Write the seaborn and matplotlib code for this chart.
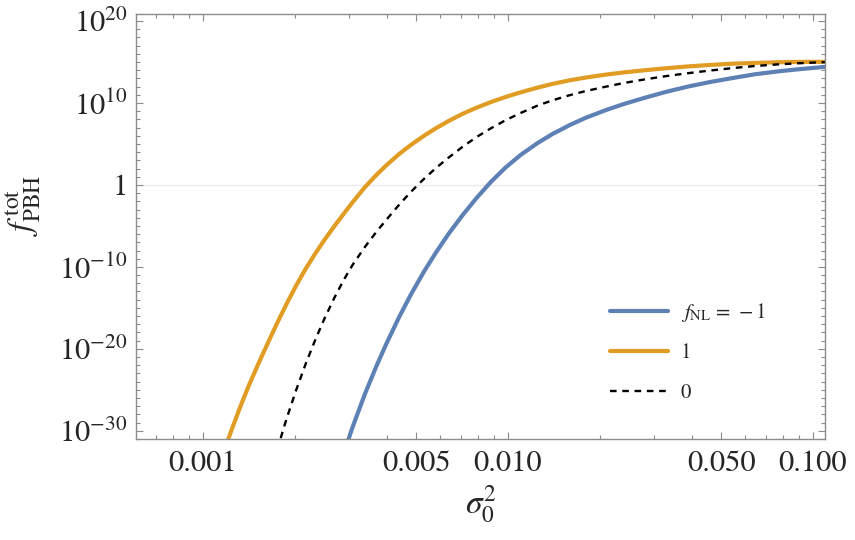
import numpy as np
import pandas as pd
import matplotlib
matplotlib.use("Agg")
import matplotlib.pyplot as plt
from matplotlib.ticker import FixedLocator, FuncFormatter, NullFormatter
import seaborn as sns

# values: x = sigma_0^2, y given as log10 of f_PBH^tot
x_fnl_m1 = [0.0029, 0.0031, 0.0034, 0.0037, 0.0040, 0.0044, 0.0048, 0.0053, 0.0058, 0.0064,
            0.0071, 0.0079, 0.0088, 0.0098, 0.011, 0.0125, 0.014, 0.016, 0.018, 0.021,
            0.024, 0.028, 0.033, 0.039, 0.046, 0.055, 0.065, 0.077, 0.09, 0.11]
logf_fnl_m1 = [-32.63, -29.46, -25.45, -22.14, -19.31, -16.09, -13.40, -10.59, -8.26, -5.92,
               -3.68, -1.56, 0.39, 2.10, 3.66, 5.11, 6.22, 7.34, 8.20, 9.15,
               9.88, 10.62, 11.36, 12.01, 12.56, 13.07, 13.52, 13.86, 14.12, 14.41]

x_fnl_p1 = [0.00118, 0.00125, 0.00133, 0.00142, 0.00152, 0.00163, 0.00175, 0.00188, 0.00202,
            0.00217, 0.00233, 0.0025, 0.0027, 0.0029, 0.0031, 0.0034, 0.0037, 0.0040, 0.0044,
            0.0048, 0.0053, 0.0058, 0.0064, 0.0071, 0.0079, 0.0088, 0.0098, 0.011, 0.0125,
            0.014, 0.016, 0.018, 0.021, 0.024, 0.028, 0.033, 0.039, 0.046, 0.055, 0.065,
            0.077, 0.09, 0.11]
logf_fnl_p1 = [-32.16, -29.58, -26.92, -24.31, -21.80, -19.33, -16.87, -14.51, -12.28,
               -10.25, -8.42, -6.72, -5.00, -3.47, -2.08, -0.25, 1.21, 2.43, 3.78,
               4.87, 5.99, 6.91, 7.82, 8.68, 9.44, 10.12, 10.72, 11.30, 11.87,
               12.33, 12.78, 13.10, 13.47, 13.73, 13.99, 14.24, 14.46, 14.64, 14.80, 14.89,
               14.97, 15.01, 15.02]

x_fnl_0 = [0.00175, 0.00188, 0.00202, 0.00217, 0.00233, 0.0025, 0.0027, 0.0029, 0.0031,
           0.0034, 0.0037, 0.0040, 0.0044, 0.0048, 0.0053, 0.0058, 0.0064, 0.0071, 0.0079,
           0.0088, 0.0098, 0.011, 0.0125, 0.014, 0.016, 0.018, 0.021, 0.024, 0.028,
           0.033, 0.039, 0.046, 0.055, 0.065, 0.077, 0.09, 0.11]
logf_fnl_0 = [-32.33, -28.52, -25.04, -21.86, -18.97, -16.34, -13.72, -11.53, -9.71,
              -7.54, -5.74, -4.21, -2.40, -0.86, 0.73, 2.05, 3.36, 4.66, 5.86,
              6.92, 7.88, 8.78, 9.68, 10.33, 10.97, 11.46, 12.00, 12.44, 12.87,
              13.28, 13.64, 13.96, 14.27, 14.52, 14.71, 14.85, 14.99]

x_major = [0.001, 0.005, 0.01, 0.05, 0.1]
x_major_labels = ["0.001", "0.005", "0.010", "0.050", "0.100"]
x_minor = [0.0007, 0.0008, 0.0009, 0.002, 0.003, 0.004, 0.006, 0.007, 0.008, 0.009,
           0.02, 0.03, 0.04, 0.06, 0.07, 0.08, 0.09]
y_major_exp = [-30, -20, -10, 0, 10, 20]

BLUE = "#5e81b5"
ORANGE = "#e19c24"
FRAME = "#8c8c8c"

sns.set_theme(style="ticks")
plt.rcParams["font.family"] = ["STIXGeneral", "DejaVu Serif"]
plt.rcParams["mathtext.fontset"] = "stix"

fig, ax = plt.subplots(figsize=(8.55, 5.4), dpi=100)
fig.subplots_adjust(left=0.159, right=0.965, bottom=0.187, top=0.974)

ax.axhline(1.0, color="#ebebeb", lw=1.0, zorder=0)

sns.lineplot(x=x_fnl_m1, y=10.0 ** np.array(logf_fnl_m1), ax=ax, color=BLUE, lw=3.0,
             label=r"$f_{\mathrm{NL}}\,=\,-1$", sort=False)
sns.lineplot(x=x_fnl_p1, y=10.0 ** np.array(logf_fnl_p1), ax=ax, color=ORANGE, lw=3.0,
             label="1", sort=False)
sns.lineplot(x=x_fnl_0, y=10.0 ** np.array(logf_fnl_0), ax=ax, color="black", lw=1.7,
             linestyle=(0, (2.8, 2.4)), label="0", sort=False)

ax.set_xscale("log")
ax.set_yscale("log")
ax.set_xlim(6.03e-4, 0.1095)
ax.set_ylim(1e-31, 10 ** 20.85)

ax.xaxis.set_major_locator(FixedLocator(x_major))
ax.xaxis.set_major_formatter(FuncFormatter(
    lambda v, p: x_major_labels[int(np.argmin([abs(np.log10(v / m)) for m in x_major]))]))
ax.xaxis.set_minor_locator(FixedLocator(x_minor))
ax.xaxis.set_minor_formatter(NullFormatter())

def ylab(v, p):
    e = int(round(np.log10(v)))
    return "1" if e == 0 else r"$10^{%d}$" % e

ax.yaxis.set_major_locator(FixedLocator([10.0 ** e for e in y_major_exp]))
ax.yaxis.set_major_formatter(FuncFormatter(ylab))
ax.yaxis.set_minor_locator(FixedLocator([10.0 ** e for e in range(-31, 21)]))
ax.yaxis.set_minor_formatter(NullFormatter())

for s in ax.spines.values():
    s.set_color(FRAME)
    s.set_linewidth(1.0)
ax.tick_params(which="both", direction="in", top=True, right=True, color=FRAME,
               labelsize=22, width=0.8)
ax.tick_params(which="major", length=5)
ax.tick_params(which="minor", length=2.7)
ax.tick_params(axis="x", which="major", pad=8)
ax.tick_params(axis="y", which="major", pad=6)

ax.set_xlabel(r"$\sigma_0^2$", fontsize=24, labelpad=4)
ax.set_ylabel(r"$f^{\,\mathrm{tot}}_{\mathrm{PBH}}$", fontsize=24, labelpad=0)
ax.yaxis.set_label_coords(-0.135, 0.55)

leg = ax.legend(loc="center left", bbox_to_anchor=(0.688, 0.205), frameon=False,
                fontsize=15, handlelength=2.8, handletextpad=0.6, labelspacing=0.95,
                borderaxespad=0, borderpad=0)

plt.savefig("out.png", dpi=100)
plt.close()
